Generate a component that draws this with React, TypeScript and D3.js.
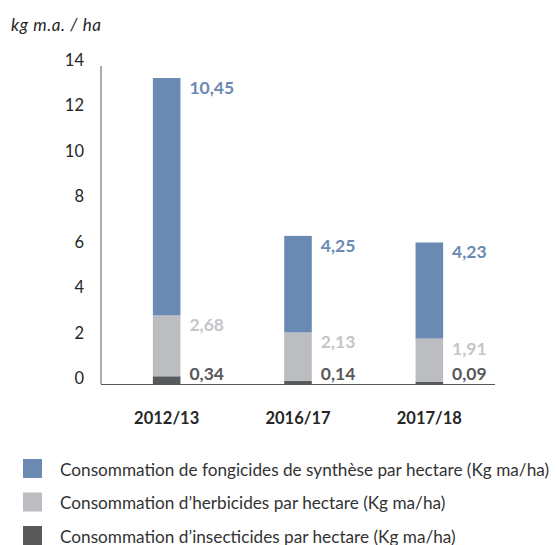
import React from "react";
import * as d3 from "d3";

const categories = ["2012/13", "2016/17", "2017/18"];
const insecticides = [0.34, 0.14, 0.09];
const herbicides = [2.68, 2.13, 1.91];
const fongicides = [10.45, 4.25, 4.23];
const yTicks = [0, 2, 4, 6, 8, 10, 12, 14];
const seriesNames = [
  "Consommation de fongicides de synthèse par hectare (Kg ma/ha)",
  "Consommation d\u2019herbicides par hectare (Kg ma/ha)",
  "Consommation d\u2019insecticides par hectare (Kg ma/ha)",
];
const axisTitle = "kg m.a. / ha";

const W = 556;
const H = 545;
const FONT = "Lato, 'Open Sans', sans-serif";

const colors = { fong: "#6a8ab3", herb: "#bcbdc0", insect: "#58595b" };
const labelColors = { fong: "#6a8ab3", herb: "#c4c5c7", insect: "#58595b" };

export default function App() {
  const y = d3.scaleLinear().domain([0, 14]).range([384, 66]);
  const x = d3
    .scaleBand<string>()
    .domain(categories)
    .range([101, 495])
    .paddingInner(0.79)
    .paddingOuter(0.395);

  const rows = categories.map((c, i) => ({
    cat: c,
    insect: insecticides[i],
    herb: herbicides[i],
    fong: fongicides[i],
  }));
  const keys = ["insect", "herb", "fong"] as const;
  const stacked = d3.stack<any>().keys(keys as any)(rows);

  const legendKeys = ["fong", "herb", "insect"] as const;

  return (
    <svg
      width={W}
      height={H}
      style={{ position: "absolute", left: 0, top: 0, background: "#fff" }}
      fontFamily={FONT}
    >
      <text x={11} y={24} dominantBaseline="central" fontSize={17} fontStyle="italic" fill="#262626" textLength={90} lengthAdjust="spacing">
        {axisTitle}
      </text>
      {yTicks.map((t) => (
        <text
          key={t}
          x={84}
          y={y(t) - 6}
          textAnchor="end"
          dominantBaseline="central"
          fontSize={16.5}
          fill="#262626"
        >
          {t}
        </text>
      ))}
      {stacked.map((s) =>
        s.map((d, i) => (
          <rect
            key={s.key + i}
            x={x(categories[i])}
            y={y(d[1])}
            width={x.bandwidth()}
            height={y(d[0]) - y(d[1])}
            fill={(colors as any)[s.key]}
          />
        ))
      )}
      {stacked.map((s) =>
        s.map((d, i) => {
          const v = (rows[i] as any)[s.key] as number;
          let ly = y(d[1]) + 9.5;
          ly = Math.min(ly, y(0) - 11);
          return (
            <text
              key={"l" + s.key + i}
              x={(x(categories[i]) as number) + x.bandwidth() + 9}
              y={ly}
              dominantBaseline="central"
              fontSize={17.5}
              fontWeight="bold"
              fill={(labelColors as any)[s.key]}
            >
              {v.toFixed(2).replace(".", ",")}
            </text>
          );
        })
      )}
      <line x1={101} x2={101} y1={66} y2={384} stroke="#595959" strokeWidth={1} />
      <line x1={101} x2={495} y1={384.5} y2={384.5} stroke="#595959" strokeWidth={1} />
      {categories.map((c) => (
        <text
          key={c}
          x={(x(c) as number) + x.bandwidth() / 2}
          y={418}
          textAnchor="middle"
          dominantBaseline="central"
          fontSize={16.5}
          fontWeight="bold"
          fill="#262626"
        >
          {c}
        </text>
      ))}
      {legendKeys.map((k, i) => (
        <g key={k} transform={`translate(23, ${459 + i * 33.5})`}>
          <rect x={0} y={0} width={19} height={19} fill={(colors as any)[k]} />
          <text x={37} y={10} dominantBaseline="central" fontSize={17.2} fill="#333">
            {seriesNames[i]}
          </text>
        </g>
      ))}
    </svg>
  );
}
